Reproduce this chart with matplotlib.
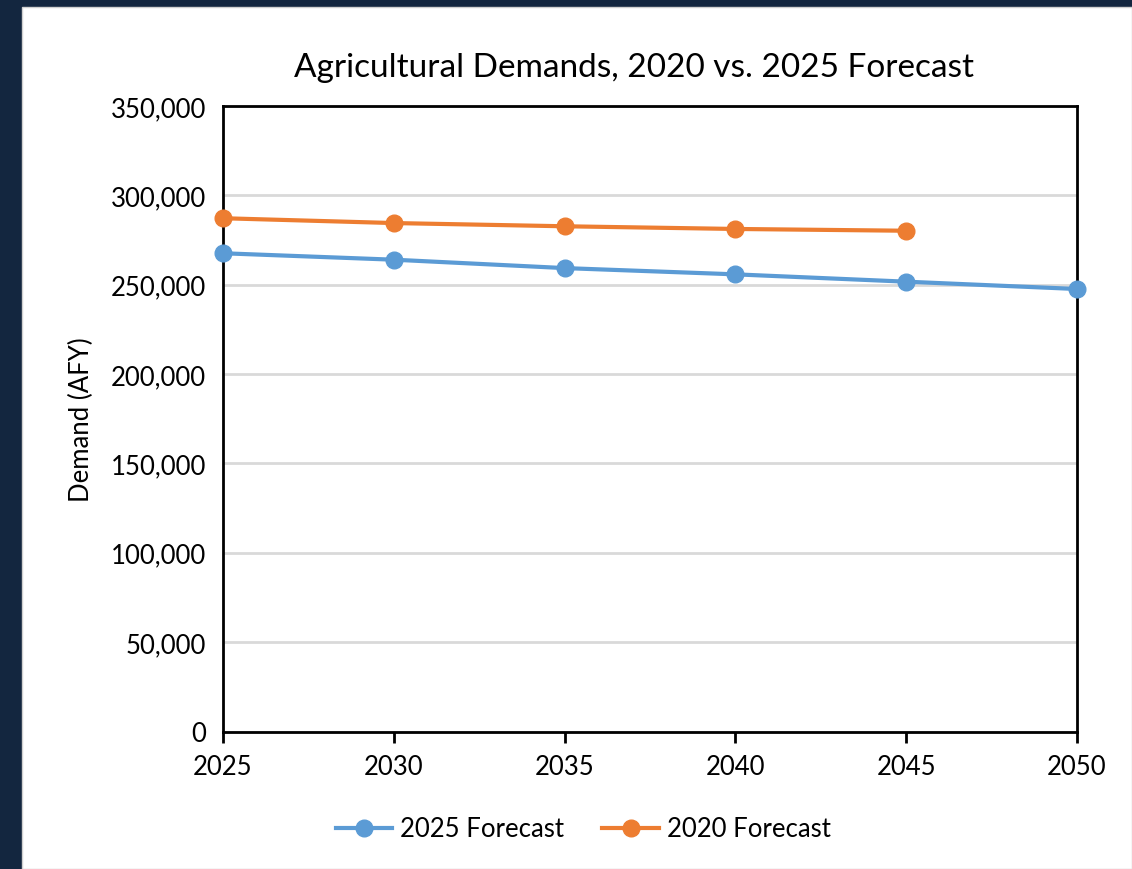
""" Agricultural demand forecasts, 2020 vs. 2025. """

import matplotlib
matplotlib.use('Agg')
import matplotlib.pyplot as plt
from matplotlib.patches import Rectangle
from matplotlib.ticker import FuncFormatter, MultipleLocator


""" Data """

years = [2025, 2030, 2035, 2040, 2045, 2050]
forecast_2025 = [267600, 264000, 259300, 255800, 251700, 247600]
years_2020 = [2025, 2030, 2035, 2040, 2045]
forecast_2020 = [287200, 284500, 282700, 281200, 280200]

BLUE = '#5B9BD5'
ORANGE = '#ED7D31'
NAVY = '#13263F'

plt.rcParams['font.family'] = ['Lato', 'DejaVu Sans']

""" Figure """

fig = plt.figure(figsize=(11.32, 8.7), dpi=100, facecolor=NAVY)
# white chart panel inside the dark frame
fig.patches.append(Rectangle((22 / 1132, 0), 1 - 22 / 1132, 1 - 8 / 870,
                             transform=fig.transFigure, facecolor='white',
                             edgecolor='#D0D0D0', lw=1, zorder=-10))

ax = fig.add_axes([223 / 1132, 1 - 732.5 / 870, (1077 - 223) / 1132, (732.5 - 107) / 870])
ax.set_facecolor('white')

ax.plot(years, forecast_2025, color=BLUE, lw=3, marker='o', ms=12,
        label='2025 Forecast', clip_on=False, zorder=3)
ax.plot(years_2020, forecast_2020, color=ORANGE, lw=3, marker='o', ms=12,
        label='2020 Forecast', clip_on=False, zorder=3)

ax.set_xlim(2025, 2050)
ax.set_ylim(0, 350000)
ax.xaxis.set_major_locator(MultipleLocator(5))
ax.yaxis.set_major_locator(MultipleLocator(50000))
ax.yaxis.set_major_formatter(FuncFormatter(lambda v, _: f'{int(v):,}'))
ax.grid(axis='y', color='#D9D9D9', lw=2)
ax.set_axisbelow(True)

for s in ax.spines.values():
    s.set_linewidth(2)
    s.set_color('black')

ax.tick_params(axis='x', direction='out', length=8, width=2, labelsize=18.5, pad=8)
ax.tick_params(axis='y', length=0, labelsize=18.5, pad=12)
ax.set_ylabel('Demand (AFY)', fontsize=18.5, labelpad=12)

fig.text(634 / 1132, 1 - 68 / 870, 'Agricultural Demands, 2020 vs. 2025 Forecast',
         ha='center', va='center', fontsize=24)

fig.legend(loc='center', bbox_to_anchor=(583 / 1132, 1 - 830 / 870), ncol=2,
           frameon=False, fontsize=18.5, handlelength=2.2, columnspacing=1.5,
           handletextpad=0.3)

fig.savefig('out.png', dpi=100, facecolor=fig.get_facecolor())
